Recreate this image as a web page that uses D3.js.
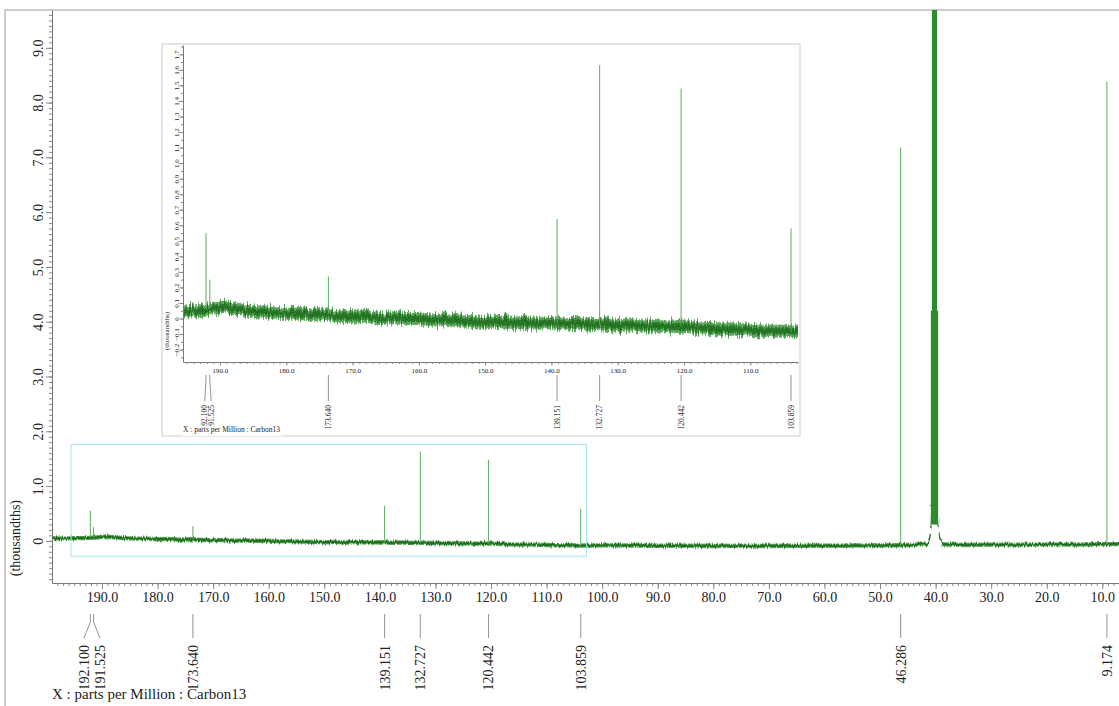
<!DOCTYPE html>
<html>
<head>
<meta charset="utf-8">
<script src="https://cdn.jsdelivr.net/npm/d3@7"></script>
<style>
  body { margin: 0; background: #fff; }
  text { font-family: "Liberation Serif", "Times New Roman", serif; fill: #222; }
  .domain { stroke: #777; }
  .tick line { stroke: #888; }
</style>
</head>
<body>
<svg id="chart" width="1119" height="706"></svg>
<script>
// ---- data (ppm, thousandths) ----
// baseline of the spectrum
var baselinePpm = [199, 197, 195, 193, 191, 189.5, 188, 186, 184, 182, 180, 178, 176, 174, 172, 170,
  168, 166, 164, 162, 160, 158, 156, 154, 152, 150, 148, 146, 144, 142, 140, 138, 136, 134, 132, 130,
  128, 126, 124, 122, 120, 118, 116, 114, 112, 110, 108, 106, 104, 102, 100, 95, 90, 85, 80, 75, 70,
  65, 60, 55, 50, 47, 45, 43, 41.4, 41.0, 40.8, 40.6, 39.8, 39.6, 39.3, 38.9, 37, 35, 30, 25, 20, 15, 11, 8, 6];
var baselineVal = [0.05, 0.04, 0.05, 0.05, 0.06, 0.08, 0.065, 0.05, 0.04, 0.04, 0.03, 0.035, 0.02, 0.03, 0.015, 0.01,
  0.015, 0.0, 0.005, 0.0, 0.0, -0.01, -0.005, -0.015, -0.02, -0.025, -0.02, -0.03, -0.025, -0.03, -0.025, -0.035, -0.03, -0.04, -0.035, -0.045,
  -0.04, -0.05, -0.045, -0.055, -0.05, -0.06, -0.065, -0.07, -0.07, -0.075, -0.08, -0.08, -0.085, -0.085, -0.08, -0.085, -0.09, -0.09, -0.095, -0.09, -0.095,
  -0.09, -0.09, -0.085, -0.08, -0.08, -0.075, -0.07, -0.06, 0.08, 0.3, 1.0, 1.0, 0.3, 0.08, -0.06, -0.07, -0.075, -0.07, -0.07, -0.065, -0.07, -0.06, -0.06, -0.06];

var peakPpm = [192.100, 191.525, 173.640, 139.151, 132.727, 120.442, 103.859, 46.286, 9.174];
var peakTop = [0.55, 0.25, 0.27, 0.64, 1.63, 1.48, 0.58, 7.18, 8.38];
var peakFoot = [0.06, 0.06, 0.03, -0.03, -0.04, -0.05, -0.085, -0.08, -0.06];
var peakLabel = ["192.100", "191.525", "173.640", "139.151", "132.727", "120.442", "103.859", "46.286", "9.174"];

// solvent multiplet, runs off the top of the plot
var solventPpm = [40.75, 40.55, 40.38, 40.2, 40.02, 39.85, 39.65];
var solventTop = [4.2, 12.6, 25.0, 29.0, 25.0, 12.6, 4.2];

var mainXTicks = [190, 180, 170, 160, 150, 140, 130, 120, 110, 100, 90, 80, 70, 60, 50, 40, 30, 20, 10];
var mainYTicks = [0, 1, 2, 3, 4, 5, 6, 7, 8, 9];
var insetXTicks = [190, 180, 170, 160, 150, 140, 130, 120, 110];
var insetYTicks = [-0.2, -0.1, 0, 0.1, 0.2, 0.3, 0.4, 0.5, 0.6, 0.7, 0.8, 0.9, 1.0, 1.1, 1.2, 1.3, 1.4, 1.5, 1.6, 1.7];

var mainDomainX = [199, 7], mainDomainY = [-0.77, 9.69];
var insetDomainX = [195.57, 102.81], insetDomainY = [-0.28, 1.76];

var xLabelText = "X : parts per Million : Carbon13";
var yLabelText = "(thousandths)";

// ---- drawing ----
var svg = d3.select("#chart");
var baseline = baselinePpm.map(function(p, i) { return [p, baselineVal[i]]; });
var fmtTick = function(d) { return d === 0 ? "0" : d3.format(".1f")(d); };

// roughening filter so the baseline band reads as noise
var defs = svg.append("defs");
function roughFilter(id, freq, scale) {
  var f = defs.append("filter").attr("id", id)
    .attr("x", "-2%").attr("y", "-100%").attr("width", "104%").attr("height", "300%");
  f.append("feTurbulence").attr("type", "fractalNoise").attr("baseFrequency", freq)
    .attr("numOctaves", 2).attr("seed", 4).attr("result", "n");
  f.append("feDisplacementMap").attr("in", "SourceGraphic").attr("in2", "n")
    .attr("scale", scale).attr("xChannelSelector", "R").attr("yChannelSelector", "G");
}
roughFilter("roughMain", "0.9 0.08", 4);
roughFilter("roughInset", "0.7 0.04", 11);

// outer frame
svg.append("path").attr("d", "M5,706V10H1119").attr("fill", "none").attr("stroke", "#999");

function drawSpectrum(g, x, y, noisePx, clipId, box, filterId) {
  g.append("clipPath").attr("id", clipId).append("rect")
    .attr("x", box[0]).attr("y", box[1]).attr("width", box[2] - box[0]).attr("height", box[3] - box[1]);
  var s = g.append("g").attr("clip-path", "url(#" + clipId + ")");
  var b = s.append("g").attr("filter", "url(#" + filterId + ")");

  var band = function(k) {
    return d3.area().x(function(d) { return x(d[0]); })
      .y0(function(d) { return y(d[1]) + noisePx * k; })
      .y1(function(d) { return y(d[1]) - noisePx * k; });
  };
  b.append("path").datum(baseline).attr("d", band(1)).attr("fill", "#5fa85f");
  b.append("path").datum(baseline).attr("d", band(0.55)).attr("fill", "#2a7a2a");
  b.append("path").datum(baseline)
    .attr("d", d3.line().x(function(d) { return x(d[0]); }).y(function(d) { return y(d[1]); }))
    .attr("fill", "none").attr("stroke", "#1d651d").attr("stroke-width", 1);

  s.selectAll(".peak").data(peakPpm).enter().append("line")
    .attr("x1", function(d) { return x(d); }).attr("x2", function(d) { return x(d); })
    .attr("y1", function(d, i) { return y(peakFoot[i]); })
    .attr("y2", function(d, i) { return y(peakTop[i]); })
    .attr("stroke", "#5cad5c").attr("stroke-width", 1);

  s.selectAll(".solvent").data(solventPpm).enter().append("line")
    .attr("x1", function(d) { return x(d); }).attr("x2", function(d) { return x(d); })
    .attr("y1", y(0.3))
    .attr("y2", function(d, i) { return y(solventTop[i]); })
    .attr("stroke", "#2e8a2e").attr("stroke-width", 1.2);
}

function drawAxes(g, x, y, o) {
  var gx = g.append("g").attr("transform", "translate(0," + o.axisY + ")");
  gx.call(d3.axisBottom(x).tickValues(d3.range(Math.ceil(d3.min(x.domain())), d3.max(x.domain()), 1))
    .tickSize(o.minor).tickFormat("").tickSizeOuter(0));
  var gx2 = g.append("g").attr("transform", "translate(0," + o.axisY + ")");
  gx2.call(d3.axisBottom(x).tickValues(o.xTicks).tickSize(o.major).tickPadding(o.xPad)
    .tickFormat(d3.format(".1f")).tickSizeOuter(0));
  gx2.select(".domain").remove();
  gx2.selectAll("text").attr("font-size", o.font);

  var gy = g.append("g").attr("transform", "translate(" + o.axisX + ",0)");
  gy.call(d3.axisLeft(y).tickValues(d3.range(Math.ceil(y.domain()[0] / o.yMinorStep) * o.yMinorStep, y.domain()[1], o.yMinorStep))
    .tickSize(o.minor).tickFormat("").tickSizeOuter(0));
  var gy2 = g.append("g").attr("transform", "translate(" + o.axisX + ",0)");
  gy2.call(d3.axisLeft(y).tickValues(o.yTicks).tickSize(o.major).tickFormat("").tickSizeOuter(0));
  gy2.select(".domain").remove();
  gy2.selectAll(".tick").append("text")
    .attr("transform", "translate(" + (-o.yPad) + ",0) rotate(-90)")
    .attr("text-anchor", "middle")
    .attr("font-size", o.font)
    .text(fmtTick);
}

function drawPeakLabels(g, x, o) {
  var items = peakPpm.map(function(p, i) { return { px: x(p), lx: x(p), label: peakLabel[i] }; })
    .filter(function(d) { return d.px >= o.x0 && d.px <= o.x1; });
  items.sort(function(a, b) { return a.px - b.px; });
  // spread labels that would overlap
  for (var i = 1; i < items.length; i++) {
    if (items[i].lx - items[i - 1].lx < o.gap) {
      var mid = (items[i].px + items[i - 1].px) / 2;
      items[i - 1].lx = mid - o.gap / 2;
      items[i].lx = mid + o.gap / 2;
    }
  }
  g.selectAll(null).data(items).enter().append("path")
    .attr("d", function(d) { return "M" + d.px + "," + o.l0 + "V" + o.l1 + "L" + d.lx + "," + o.l2; })
    .attr("fill", "none").attr("stroke", "#888").attr("stroke-width", 0.9);
  g.selectAll(null).data(items).enter().append("text")
    .attr("transform", function(d) { return "translate(" + d.lx + "," + o.t0 + ") rotate(-90)"; })
    .attr("text-anchor", "end")
    .attr("dy", "0.35em")
    .attr("font-size", o.font)
    .text(function(d) { return d.label; });
}

function drawXLabel(g, xPos, yPos, size) {
  var t = g.append("text").attr("x", xPos).attr("y", yPos).attr("font-size", size).text(xLabelText);
  var bb = t.node().getBBox();
  g.insert("rect", function() { return t.node(); })
    .attr("x", bb.x - 1).attr("y", bb.y + 2).attr("width", bb.width + 2).attr("height", bb.height)
    .attr("fill", "#fff");
}

// ---- main plot ----
var x = d3.scaleLinear().domain(mainDomainX).range([52, 1119]);
var y = d3.scaleLinear().domain(mainDomainY).range([583, 10]);
var main = svg.append("g");
drawSpectrum(main, x, y, 2.2, "clipMain", [52, 10, 1119, 583], "roughMain");
drawAxes(main, x, y, { axisY: 583, axisX: 52, xTicks: mainXTicks, yTicks: mainYTicks,
  minor: 3, major: 6, xPad: 3, yPad: 9, font: 14, yMinorStep: 0.1 });
drawPeakLabels(main, x, { x0: 52, x1: 1119, gap: 16, l0: 614, l1: 622, l2: 638, t0: 645, font: 14 });
main.append("text")
  .attr("transform", "translate(15," + y(0.05) + ") rotate(-90)")
  .attr("text-anchor", "middle").attr("dy", "0.35em").attr("font-size", 14)
  .text(yLabelText);
drawXLabel(main, 52, 699, 15);

// zoom window marker
main.append("rect")
  .attr("x", x(insetDomainX[0])).attr("y", y(insetDomainY[1]))
  .attr("width", x(insetDomainX[1]) - x(insetDomainX[0]))
  .attr("height", y(insetDomainY[0]) - y(insetDomainY[1]))
  .attr("fill", "none").attr("stroke", "#a6e6ec").attr("stroke-width", 1);

// ---- inset ----
var inset = svg.append("g");
inset.append("rect").attr("x", 162).attr("y", 44).attr("width", 638).attr("height", 392)
  .attr("fill", "#fff").attr("stroke", "#ccc");
var xi = d3.scaleLinear().domain(insetDomainX).range([183, 798]);
var yi = d3.scaleLinear().domain(insetDomainY).range([362, 45]);
drawSpectrum(inset, xi, yi, 6.5, "clipInset", [183, 45, 798, 362], "roughInset");
drawAxes(inset, xi, yi, { axisY: 362, axisX: 183, xTicks: insetXTicks, yTicks: insetYTicks,
  minor: 2, major: 3.5, xPad: 2.5, yPad: 4, font: 7, yMinorStep: 0.05 });
drawPeakLabels(inset, xi, { x0: 183, x1: 798, gap: 6.5, l0: 375, l1: 380, l2: 401, t0: 405, font: 7.5 });
inset.append("text")
  .attr("transform", "translate(167," + yi(-0.08) + ") rotate(-90)")
  .attr("text-anchor", "middle").attr("dy", "0.35em").attr("font-size", 7)
  .text(yLabelText);
drawXLabel(inset, 183, 432, 7.5);
</script>
</body>
</html>
